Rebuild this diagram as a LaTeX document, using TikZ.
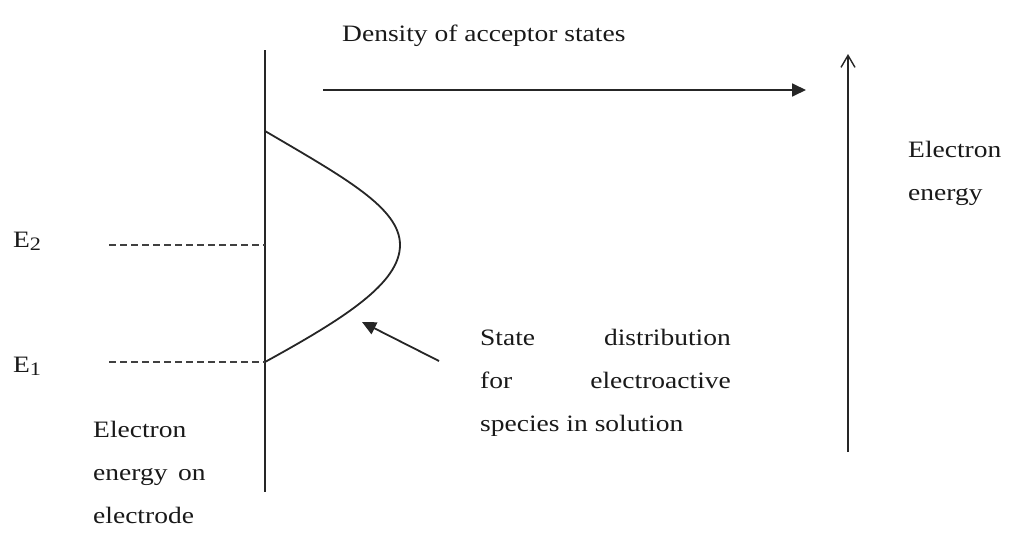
\documentclass[tikz,border=0pt]{standalone}
\usepackage{fontspec}
\setmainfont[FakeStretch=1.17]{Liberation Serif}
\usetikzlibrary{arrows.meta}
\newcommand{\mysub}[1]{\raisebox{-3.5pt}{\fontsize{19}{19}\selectfont #1}}
\begin{document}
\begin{tikzpicture}[x=1pt,y=-1pt,
  line/.style={line width=1.8pt,color=black!85},
  dashline/.style={line width=1.8pt,color=black!75,dash pattern=on 7pt off 4pt},
  lbl/.style={inner sep=0pt,anchor=base west,font=\fontsize{23.5}{43}\selectfont,text=black!90},
  filltip/.style={-{Triangle[length=14pt,width=13pt]}},
  opentip/.style={-{Straight Barb[length=12pt,width=14pt,line width=1.4pt]}}]
\useasboundingbox (0,0) rectangle (1017,554);
% axes
\coordinate (eTop) at (265,50);
\coordinate (eBot) at (265,492);
\draw[line] (eTop) -- (eBot);
\coordinate (dA) at (323,90);
\coordinate (dB) at (806,90);
\draw[line,filltip] (dA) -- (dB);
\coordinate (rA) at (848,452);
\coordinate (rB) at (848,54);
\draw[line,opentip] (rA) -- (rB);
% curve
\coordinate (cS) at (265,131);
\coordinate (cM) at (400,245);
\coordinate (cE) at (265,362);
\draw[line] (cS) .. controls (345,178) and (400,208) .. (cM)
  .. controls (400,283) and (345,318) .. (cE);
% dashed levels
\coordinate (d2a) at (109,245);
\coordinate (d2b) at (265,245);
\coordinate (d1a) at (109,362);
\coordinate (d1b) at (265,362);
\draw[dashline] (d2a) -- (d2b);
\draw[dashline] (d1a) -- (d1b);
% pointer arrow
\coordinate (pA) at (439,361);
\coordinate (pB) at (362,322);
\draw[line,filltip] (pA) -- (pB);
% labels
\node[lbl] (dens) at (342,41) {Density of acceptor states};
\node[lbl] (el1) at (908,157) {Electron};
\node[lbl] (el2) at (908,200) {energy};
\node[lbl] (e2) at (13,247) {E\mysub{2}};
\node[lbl] (e1) at (13,372) {E\mysub{1}};
\node[lbl] (s1) at (480,345) {State};
\node[lbl,anchor=base east] (s1b) at (731,345) {distribution};
\node[lbl] (s2) at (480,388) {for};
\node[lbl,anchor=base east] (s2b) at (731,388) {electroactive};
\node[lbl] (s3) at (480,431) {species in solution};
\node[lbl] (l1) at (93,437) {Electron};
\node[lbl] (l2) at (93,480) {energy\hspace{0.45em}on};
\node[lbl] (l3) at (93,523) {electrode};
\end{tikzpicture}
\end{document}
